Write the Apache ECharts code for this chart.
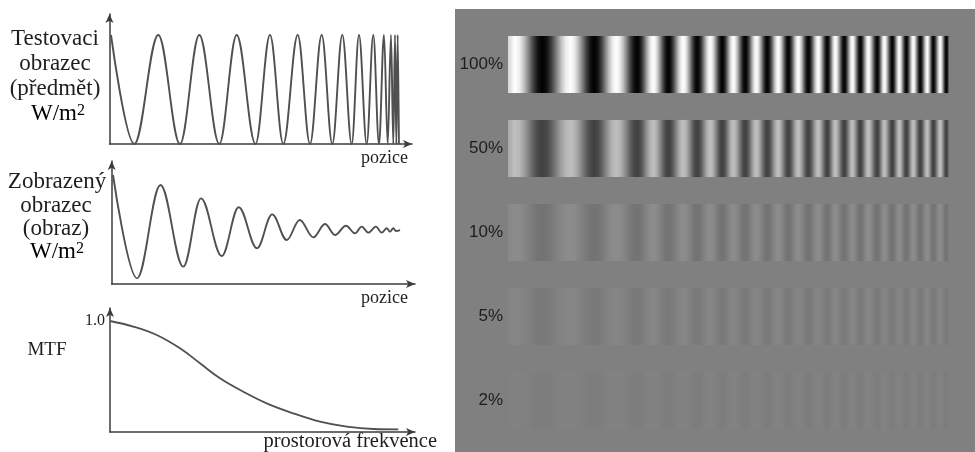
<!DOCTYPE html>
<html>
<head>
<meta charset="utf-8">
<script src="https://cdn.jsdelivr.net/npm/echarts@6/dist/echarts.min.js"></script>
<style>
  html, body { margin: 0; padding: 0; background: #ffffff; }
  #chart { width: 975px; height: 452px; }
</style>
</head>
<body>
<div id="chart"></div>
<script>
// ---- Test pattern (object): positions of the maxima/minima along the axis and their level (0..1)
const objectPos = [1.5, 24.8, 48.8, 70.5, 89.8, 109.8, 127.2, 146, 160.5, 173.8, 188.2, 200.5, 212.2, 222.8,
                   232.8, 242.2, 249.5, 257.2, 263.8, 269.5, 274.5, 278.2, 281.5, 283.8, 285.5, 286.8, 288.2, 289.4];
const objectVal = [1, 0, 1, 0, 1, 0, 1, 0, 1, 0, 1, 0, 1, 0,
                   1, 0, 1, 0, 1, 0, 1, 0, 1, 0, 1, 0, 1, 0];

// ---- Imaged pattern: same positions, amplitude falls off with frequency
const imagePos = [1.3, 25.3, 48.8, 71.6, 89.3, 110, 127, 145.3, 160.5, 175, 188, 201.6, 213.3,
                  223.3, 234.3, 243.3, 250, 256.6, 264.3, 270, 275, 278.3, 281.6, 284.3, 288.3];
const imageVal = [1.0, 0.052, 0.908, 0.159, 0.786, 0.257, 0.704, 0.328, 0.639, 0.404, 0.587, 0.428, 0.550,
                  0.450, 0.535, 0.465, 0.526, 0.471, 0.526, 0.471, 0.511, 0.480, 0.511, 0.486, 0.495];

// ---- Modulation transfer function
const mtfFreq = [0, 23.3, 46.7, 70, 90, 110, 133.3, 156.7, 183.3, 210, 236.7, 263.3, 288.3];
const mtfVal  = [1.0, 0.95, 0.874, 0.754, 0.619, 0.484, 0.363, 0.258, 0.168, 0.093, 0.048, 0.027, 0.024];

// ---- Contrast test strips: stripe extrema positions (0..440) and signed level (-1 black .. 1 white)
const contrastLabels = ['100%', '50%', '10%', '5%', '2%'];
const contrastValues = [100, 50, 10, 5, 2];
const gratingPos = [0, 7, 34, 62, 86, 108, 129, 145, 160, 175, 189, 202, 214, 225, 237, 248, 259, 270, 280,
                    290, 300, 310, 319, 327, 336, 344, 352, 360, 369, 376, 384, 391, 398, 405, 412, 419,
                    425, 432, 438, 440];
const gratingVal = [0.7, 1, -1, 1, -1, 1, -1, 1, -1, 1, -1, 1, -1, 1, -1, 1, -1, 1, -1,
                    1, -1, 1, -1, 1, -1, 1, -1, 1, -1, 1, -1, 1, -1, 1, -1, 1,
                    -1, 1, -1, -0.6];

const SERIF = '"Liberation Serif", "Times New Roman", serif';
const SANS = '"Liberation Sans", Arial, sans-serif';
const AXIS_COLOR = '#3c3c3c';
const CURVE_COLOR = '#505050';
const TEXT_COLOR = '#1e1e1e';

function zipPairs(xs, ys) { return xs.map((x, i) => [x, ys[i]]); }

// one stripe cell per half period, for every contrast row
const gratingData = [];
contrastValues.forEach((c, row) => {
  for (let k = 0; k < gratingPos.length - 1; k++) {
    gratingData.push([gratingPos[k], gratingPos[k + 1], row, gratingVal[k], gratingVal[k + 1]]);
  }
});

function grayOf(level, contrast) {
  const g = Math.round(127.5 + 127.5 * (contrast / 100) * level);
  const v = Math.max(0, Math.min(255, g));
  return 'rgb(' + v + ',' + v + ',' + v + ')';
}

function renderStripe(params, api) {
  const x0 = api.value(0), x1 = api.value(1), row = api.value(2);
  const v0 = api.value(3), v1 = api.value(4);
  const p0 = api.coord([x0, row]);
  const p1 = api.coord([x1, row]);
  const h = api.size([0, 1])[1] * 0.68;
  const c = contrastValues[row];
  const stops = [];
  // cosine-shaped ramp between neighbouring extrema
  for (let i = 0; i <= 6; i++) {
    const t = i / 6;
    const s = (1 - Math.cos(Math.PI * t)) / 2;
    stops.push({ offset: t, color: grayOf(v0 + (v1 - v0) * s, c) });
  }
  return {
    type: 'rect',
    shape: { x: p0[0], y: p0[1] - h / 2, width: p1[0] - p0[0] + 0.6, height: h },
    style: { fill: { type: 'linear', x: 0, y: 0, x2: 1, y2: 0, colorStops: stops } }
  };
}

function arrowX(gridIndex, max) {
  return {
    type: 'value', gridIndex: gridIndex, min: 0, max: max,
    axisLine: { show: true, onZero: false, lineStyle: { color: AXIS_COLOR, width: 1.5 },
                symbol: ['none', 'arrow'], symbolSize: [6, 9] },
    axisTick: { show: false }, axisLabel: { show: false }, splitLine: { show: false }
  };
}
function arrowY(gridIndex, max, extra) {
  return Object.assign({
    type: 'value', gridIndex: gridIndex, min: 0, max: max,
    axisLine: { show: true, onZero: false, lineStyle: { color: AXIS_COLOR, width: 1.5 },
                symbol: ['none', 'arrow'], symbolSize: [6, 9] },
    axisTick: { show: false }, axisLabel: { show: false }, splitLine: { show: false }
  }, extra || {});
}

function serifText(x, y, text, size, align) {
  return {
    type: 'text', x: x, y: y, silent: true,
    style: { text: text, fontFamily: SERIF, fontSize: size, fill: TEXT_COLOR,
             align: align || 'center', verticalAlign: 'middle' }
  };
}
function unitText(x, y) {
  return {
    type: 'text', x: x, y: y, silent: true,
    style: {
      text: '{u|W/m}{s|2}', align: 'center', verticalAlign: 'middle',
      rich: {
        u: { fontFamily: SERIF, fontSize: 23, color: TEXT_COLOR },
        s: { fontFamily: SERIF, fontSize: 16, color: TEXT_COLOR, verticalAlign: 'top' }
      }
    }
  };
}

const chart = echarts.init(document.getElementById('chart'), null, { renderer: 'canvas' });

const option = {
  animation: false,
  backgroundColor: '#ffffff',
  grid: [
    { left: 109.5, top: 14, width: 302.5, height: 130 },          // test pattern
    { left: 111.7, top: 161, width: 303.3, height: 123 },         // imaged pattern
    { left: 110, top: 308, width: 305, height: 124 },             // MTF
    { left: 508, right: 27, top: 22.5, bottom: 9.5 }              // contrast strips
  ],
  xAxis: [
    arrowX(0, 302.5),
    arrowX(1, 303.3),
    arrowX(2, 305),
    { type: 'value', gridIndex: 3, min: 0, max: 440, show: false }
  ],
  yAxis: [
    arrowY(0, 130 / 109),
    arrowY(1, 123 / 109),
    arrowY(2, 124 / 111, {
      interval: 1,
      axisLabel: {
        show: true, margin: 5, fontFamily: SERIF, fontSize: 16, color: TEXT_COLOR, padding: [6, 0, 0, 0],
        formatter: v => (v === 1 ? '1.0' : '')
      }
    }),
    {
      type: 'category', gridIndex: 3, data: contrastLabels, inverse: true,
      axisLine: { show: false }, axisTick: { show: false }, splitLine: { show: false },
      axisLabel: { margin: 5, fontFamily: SANS, fontSize: 17, color: '#1c1c1c', padding: [4, 0, 0, 0] }
    }
  ],
  graphic: [
    { type: 'rect', z: -10, silent: true, shape: { x: 455, y: 9, width: 520, height: 443 },
      style: { fill: '#808080' } },
    serifText(55, 39, 'Testovaci', 23),
    serifText(55, 64, 'obrazec', 23),
    serifText(55, 89, '(předmět)', 23),
    unitText(58, 114),
    serifText(408, 158, 'pozice', 18, 'right'),
    serifText(57, 182, 'Zobrazený', 23),
    serifText(56, 206, 'obrazec', 23),
    serifText(56, 229, '(obraz)', 23),
    unitText(57, 252),
    serifText(408, 298, 'pozice', 18, 'right'),
    serifText(47, 350, 'MTF', 19),
    serifText(437, 442, 'prostorová frekvence', 20.5, 'right')
  ],
  series: [
    {
      type: 'line', xAxisIndex: 0, yAxisIndex: 0, data: zipPairs(objectPos, objectVal),
      showSymbol: false, symbol: 'none', smooth: 0.364, smoothMonotone: 'x', clip: false,
      lineStyle: { color: CURVE_COLOR, width: 1.9 }
    },
    {
      type: 'line', xAxisIndex: 1, yAxisIndex: 1, data: zipPairs(imagePos, imageVal),
      showSymbol: false, symbol: 'none', smooth: 0.364, smoothMonotone: 'x', clip: false,
      lineStyle: { color: CURVE_COLOR, width: 1.9 }
    },
    {
      type: 'line', xAxisIndex: 2, yAxisIndex: 2, data: zipPairs(mtfFreq, mtfVal),
      showSymbol: false, symbol: 'none', smooth: 0.4, clip: false,
      lineStyle: { color: CURVE_COLOR, width: 1.8 }
    },
    {
      type: 'custom', xAxisIndex: 3, yAxisIndex: 3, data: gratingData,
      encode: { x: [0, 1], y: 2 }, renderItem: renderStripe, silent: true
    }
  ]
};

chart.setOption(option);
</script>
</body>
</html>
